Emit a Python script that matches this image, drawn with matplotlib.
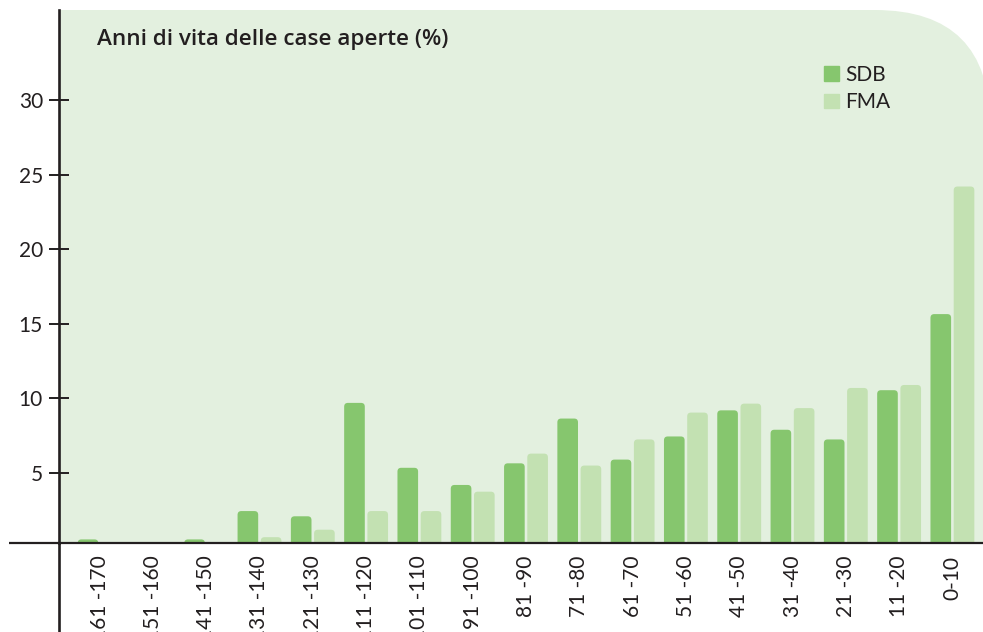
import matplotlib
matplotlib.use("Agg")
import matplotlib.pyplot as plt
import matplotlib.patches as mpatches
import matplotlib.transforms as mtransforms
import numpy as np

# age classes of the opened houses (years), oldest first
classes = ["161 -170", "151 -160", "141 -150", "131 -140", "121 -130",
           "111 -120", "101 -110", "91 -100", "81 -90", "71 -80", "61 -70",
           "51 -60", "41 -50", "31 -40", "21 -30", "11 -20", "0-10"]
sdb = [0.55, 0.0, 0.55, 2.45, 2.1, 9.7, 5.35, 4.2, 5.65, 8.65, 5.9,
       7.45, 9.2, 7.9, 7.25, 10.55, 15.65]
fma = [0.0, 0.0, 0.0, 0.7, 1.2, 2.45, 2.45, 3.75, 6.3, 5.5, 7.25,
       9.05, 9.65, 9.35, 10.7, 10.9, 24.2]
yticks = [5, 10, 15, 20, 25, 30]

dark = "#86c66e"
light = "#c3e1b2"
panel = "#e3f0df"
ink = "#231f20"

plt.rcParams["font.family"] = ["Lato", "DejaVu Sans"]

W, H = 983, 632
fig = plt.figure(figsize=(W / 100, H / 100), dpi=100)
ax = fig.add_axes([58.5 / W, (H - 543) / H, (W - 58.5) / W, (543 - 10) / H])
ax.set_facecolor("white")

# background panel with the rounded top-right corner (pixel coords)
px = mtransforms.Affine2D().scale(1 / W, 1 / H) + fig.transFigure
bg = mpatches.FancyBboxPatch((-400, -400), 990 + 400, (H - 10) + 400,
                             boxstyle="round,pad=0,rounding_size=115",
                             transform=px, facecolor=panel, edgecolor="none",
                             zorder=0)
bg.set_clip_path(ax.patch)
ax.add_artist(bg)

ax.set_xlim(-0.771, 16.574)
ax.set_ylim(0.31, 36.03)

x = np.arange(len(classes))
w = 0.387
off = 0.218
b1 = ax.bar(x - off, sdb, w, color=dark, zorder=2)
b2 = ax.bar(x + off, fma, w, color=light, zorder=2)

# rounded tops: swap each rectangle for a rounded box of the same size
aspect = (53.3 / 14.92)
for bars in (b1, b2):
    for r in bars:
        if r.get_height() > 0:
            fb = mpatches.FancyBboxPatch((r.get_x(), r.get_y()), r.get_width(), r.get_height(),
                                         boxstyle="round,pad=0,rounding_size=0.07",
                                         mutation_aspect=aspect,
                                         facecolor=r.get_facecolor(), edgecolor="none",
                                         zorder=2)
            ax.add_patch(fb)
        r.set_visible(False)

ax.set_xlim(-0.771, 16.574)
ax.set_ylim(0.31, 36.03)

for s in ["top", "right"]:
    ax.spines[s].set_visible(False)
ax.spines["left"].set_linewidth(1.9)
ax.spines["left"].set_color(ink)
ax.spines["bottom"].set_linewidth(1.6)
ax.spines["bottom"].set_color(ink)
# x axis runs on past the y axis, y axis runs on below the x axis
ax.plot([-49.5 / (W - 58.5), 0], [0, 0], transform=ax.transAxes,
        color=ink, lw=1.6, clip_on=False, solid_capstyle="butt")
ax.plot([0, 0], [0, -95 / (543 - 10)], transform=ax.transAxes,
        color=ink, lw=1.9, clip_on=False, solid_capstyle="butt")

ax.set_yticks(yticks)
ax.tick_params(axis="y", direction="inout", length=14.4, width=1.4,
               color=ink, labelcolor=ink, labelsize=15, pad=4)
ax.set_xticks(x)
ax.set_xticklabels(classes, rotation=90, va="top", ha="center")
ax.tick_params(axis="x", length=0, labelcolor=ink, labelsize=15, pad=9)

fig.text(97 / W, (H - 45) / H, "Anni di vita delle case aperte (%)",
         fontsize=16.2, fontweight="semibold", color=ink, va="baseline",
         family=["Open Sans", "DejaVu Sans"])

handles = [mpatches.Patch(color=dark, label="SDB"),
           mpatches.Patch(color=light, label="FMA")]
leg = ax.legend(handles=handles, loc="upper left",
                bbox_to_anchor=(824 / W, (H - 65) / H),
                bbox_transform=fig.transFigure, frameon=False, fontsize=15,
                handlelength=0.7, handleheight=0.7, handletextpad=0.3,
                labelspacing=0.35, borderpad=0, borderaxespad=0)
for t in leg.get_texts():
    t.set_color(ink)

fig.savefig("out.png", dpi=100)
